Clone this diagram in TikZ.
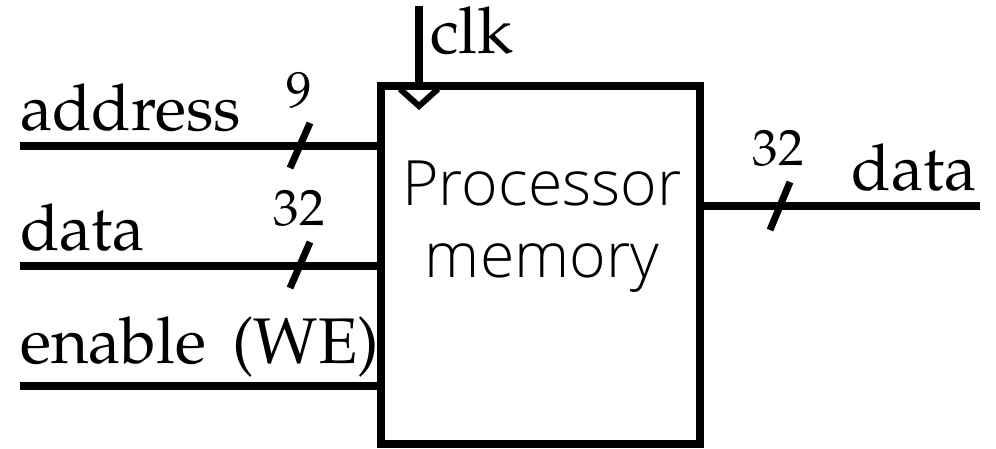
\documentclass[tikz,border=0pt]{standalone}
\usepackage[T1]{fontenc}
\usepackage{fontspec}
\newfontfamily\boxfont{Open Sans}[UprightFont={* Light}]
\newcommand\palfont{\fontencoding{T1}\fontfamily{ppl}\selectfont}
\begin{document}
\begin{tikzpicture}[x=1pt,y=-1pt,
  wire/.style={line width=7.5pt},
  slash/.style={line width=7pt},
  lbl/.style={inner sep=0pt, font=\palfont\fontsize{64.5}{70}\selectfont},
  buslbl/.style={inner sep=0pt, font=\palfont\fontsize{51}{60}\selectfont},
  boxtxt/.style={inner sep=0pt, font=\boxfont\fontsize{62.5}{72}\selectfont},
  membox/.style={draw, line width=7.5pt, minimum width=319pt, minimum height=358pt, inner sep=0pt}]
\useasboundingbox (0,0) rectangle (996,448);
\node[membox] (box) at (540.5,265) {};
\node[boxtxt, anchor=base] (t1) at (542,205) {Processor};
\node[boxtxt, anchor=base] (t2) at (542,277) {memory};
% inputs
\coordinate (a0) at (20,146);
\coordinate (d0) at (20,266);
\coordinate (e0) at (20,386);
\draw[wire] (a0) -- (box.west |- a0);
\draw[wire] (d0) -- (box.west |- d0);
\draw[wire] (e0) -- (box.west |- e0);
\node[lbl, anchor=base west] (la) at (20,130) {address};
\node[lbl, anchor=base west] (ld) at (20,250) {data};
\node[lbl, anchor=base west] (le) at (20,363) {enable\hspace{10pt} (WE)};
% slashes
\coordinate (s1a) at (290,168); \coordinate (s1b) at (310,123);
\coordinate (s2a) at (290,288); \coordinate (s2b) at (310,242);
\coordinate (s3a) at (770,230); \coordinate (s3b) at (790,182);
\draw[slash] (s1a) -- (s1b);
\draw[slash] (s2a) -- (s2b);
\draw[slash] (s3a) -- (s3b);
\node[buslbl] (n9) at (299,90) {9};
\node[buslbl] (n32a) at (299,208) {32};
\node[buslbl] (n32b) at (778,148) {32};
% output
\coordinate (o1) at (980,206);
\draw[wire] (box.east |- o1) -- (o1);
\node[lbl, anchor=base east] (lo) at (977,190) {data};
% clock
\coordinate (c0) at (419,6);
\draw[wire] (c0) -- (box.north -| c0);
\coordinate (k1) at (400,89);
\coordinate (k2) at (419,106);
\coordinate (k3) at (438,89);
\draw[line width=6pt] (k1) -- (k2) -- (k3);
\node[lbl, anchor=base west] (lc) at (430,53) {clk};
\end{tikzpicture}
\end{document}
